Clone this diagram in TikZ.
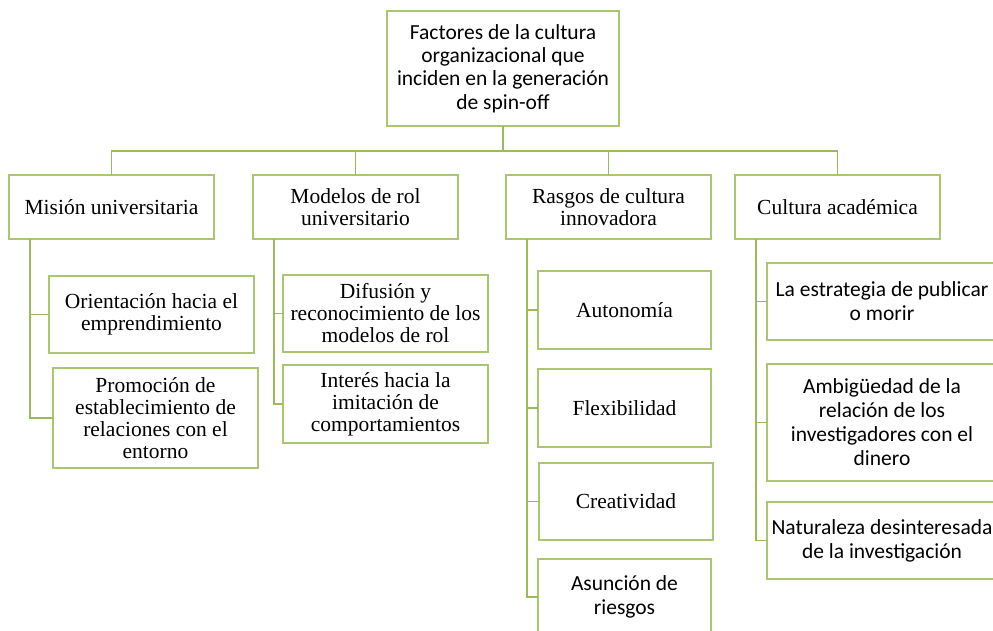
\documentclass[tikz,border=0pt]{standalone}
\usepackage{fontspec}
\setmainfont{Liberation Serif}
\newfontfamily\calfont{Carlito}
\definecolor{linegreen}{HTML}{9BBB59}
\definecolor{boxgreen}{HTML}{A9C76E}
\tikzset{
  box/.style={draw=boxgreen, line width=1.6pt, fill=white, align=center, inner sep=0pt, outer sep=0pt, anchor=north west, text=black},
  serif/.style={font=\fontsize{21.5}{22}\selectfont},
  sans/.style={font=\calfont\fontsize{21.5}{24}\selectfont},
  sanstop/.style={font=\calfont\fontsize{21.5}{23.3}\selectfont},
  conn/.style={draw=linegreen, line width=1.8pt},
}
\begin{document}
\begin{tikzpicture}[x=1pt,y=-1pt]
\useasboundingbox (0,0) rectangle (993,631);
\clip (0,0) rectangle (993,631);
\fill[white] (0,0) rectangle (993,631);
\coordinate (bar) at (503,151);
% nodes
\node[box,sanstop,minimum width=232pt,minimum height=115pt] (top) at (387,11) {Factores de la cultura\\organizacional que\\inciden en la generación\\de spin-off};
\node[box,serif,minimum width=205pt,minimum height=64pt] (mis) at (9,175) {Misión universitaria};
\node[box,serif,minimum width=205pt,minimum height=64pt] (mod) at (253,175) {Modelos de rol\\universitario};
\node[box,serif,minimum width=205pt,minimum height=64pt] (ras) at (506,175) {Rasgos de cultura\\innovadora};
\node[box,serif,minimum width=205pt,minimum height=64pt] (cul) at (735,175) {Cultura académica};
\node[box,serif,minimum width=205pt,minimum height=77pt] (ori) at (49,276) {Orientación hacia el\\emprendimiento};
\node[box,serif,minimum width=205pt,minimum height=100pt] (pro) at (53,368) {Promoción de\\establecimiento de\\relaciones con el\\entorno};
\node[box,serif,minimum width=205pt,minimum height=77pt] (dif) at (283,275) {Difusión y\\reconocimiento de los\\modelos de rol};
\node[box,serif,minimum width=205pt,minimum height=78pt] (int) at (283,365) {Interés hacia la\\imitación de\\comportamientos};
\node[box,serif,minimum width=173pt,minimum height=78pt] (aut) at (538,271) {Autonomía};
\node[box,serif,minimum width=173pt,minimum height=78pt] (fle) at (538,369) {Flexibilidad};
\node[box,serif,minimum width=174pt,minimum height=77pt] (cre) at (539,463) {Creatividad};
\node[box,sans,minimum width=173pt,minimum height=76pt] (asu) at (538,559) {Asunción de\\riesgos};
\node[box,sans,minimum width=230pt,minimum height=77pt] (est) at (767,263) {La estrategia de publicar\\o morir};
\node[box,sans,minimum width=230pt,minimum height=117pt] (amb) at (767,364) {Ambigüedad de la\\relación de los\\investigadores con el\\dinero};
\node[box,sans,minimum width=230pt,minimum height=77pt] (nat) at (767,502) {Naturaleza desinteresada\\de la investigación};
% top-level connectors
\draw[conn] (top.south) -- (top.south |- bar);
\draw[conn] (mis.north) |- (cul.north |- bar) -- (cul.north);
\draw[conn] (mod.north) -- (mod.north |- bar);
\draw[conn] (ras.north) -- (ras.north |- bar);
% child connectors
\draw[conn] ([xshift=21pt]mis.south west) |- (ori.west);
\draw[conn] ([xshift=21pt]mis.south west) |- (pro.west);
\draw[conn] ([xshift=21pt]mod.south west) |- (dif.west);
\draw[conn] ([xshift=21pt]mod.south west) |- (int.west);
\draw[conn] ([xshift=21pt]ras.south west) |- (aut.west);
\draw[conn] ([xshift=21pt]ras.south west) |- (fle.west);
\draw[conn] ([xshift=21pt]ras.south west) |- (cre.west);
\draw[conn] ([xshift=21pt]ras.south west) |- (asu.west);
\draw[conn] ([xshift=21pt]cul.south west) |- (est.west);
\draw[conn] ([xshift=21pt]cul.south west) |- (amb.west);
\draw[conn] ([xshift=21pt]cul.south west) |- (nat.west);
\end{tikzpicture}
\end{document}
